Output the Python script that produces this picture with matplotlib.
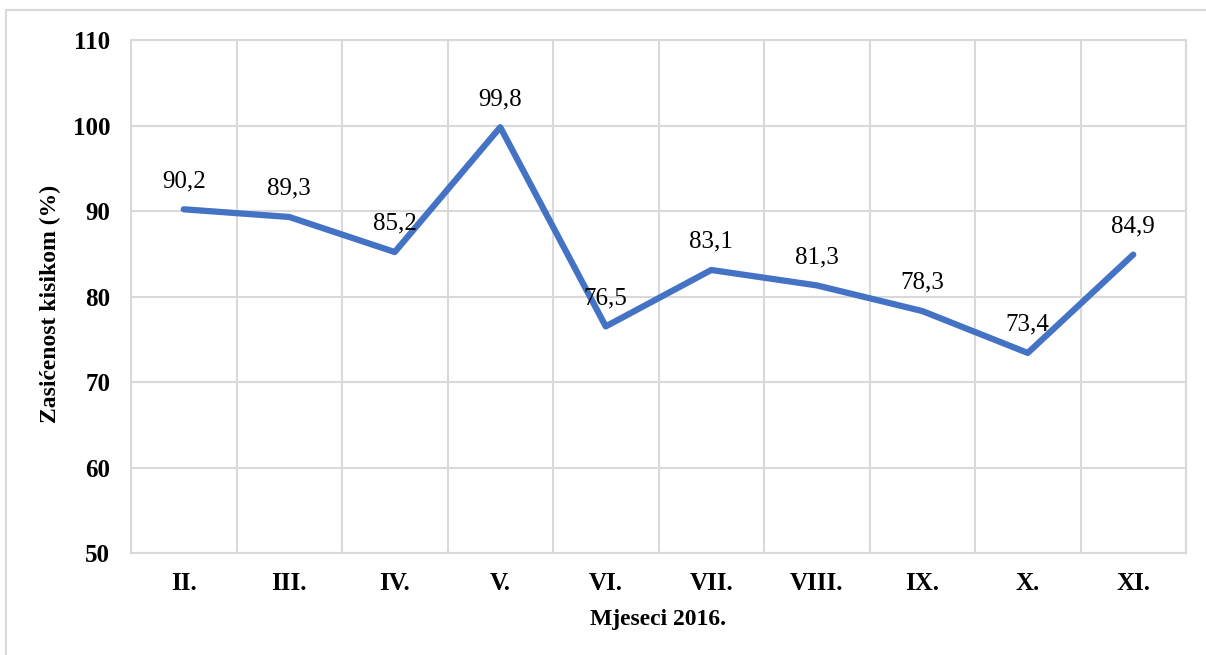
import numpy as np
import matplotlib.pyplot as plt
from matplotlib.patches import Rectangle

# ----------------------------
# Data
# ----------------------------
months = ["II.", "III.", "IV.", "V.", "VI.", "VII.", "VIII.", "IX.", "X.", "XI."]
saturation = [90.2, 89.3, 85.2, 99.8, 76.5, 83.1, 81.3, 78.3, 73.4, 84.9]
y_ticks = [50, 60, 70, 80, 90, 100, 110]

plt.rcParams['font.family'] = ['Liberation Serif', 'DejaVu Serif']

fig = plt.figure(figsize=(12.06, 6.55), dpi=100)
ax = fig.add_axes([131 / 1206, 1 - 553 / 655, (1186 - 131) / 1206, (553 - 40) / 655])

# outer frame of the chart area
fig.patches.append(Rectangle((6 / 1206, -0.1), 1.2, 1.1 - 10 / 655,
                             transform=fig.transFigure, fill=False,
                             edgecolor="#D9D9D9", linewidth=1.5))

x = np.arange(len(months))
ax.plot(x, saturation, color="#4472C4", linewidth=4.5, solid_capstyle="round",
        solid_joinstyle="round", zorder=3)

for xi, v in zip(x, saturation):
    ax.annotate(f"{v:.1f}".replace(".", ","), (xi, v), xytext=(0, 16),
                textcoords="offset points", ha="center", va="baseline",
                fontsize=18, color="#000000")

ax.set_xlim(-0.5, len(months) - 0.5)
ax.set_ylim(50, 110)
ax.set_yticks(y_ticks)
ax.set_xticks(x)
ax.set_xticklabels(months, fontsize=18, fontweight="bold")
ax.set_yticklabels([str(t) for t in y_ticks], fontsize=18, fontweight="bold")
ax.set_xticks(np.arange(-0.5, len(months), 1), minor=True)

ax.grid(True, axis="y", which="major", color="#D9D9D9", linewidth=1.5)
ax.grid(True, axis="x", which="minor", color="#D9D9D9", linewidth=1.5)
ax.tick_params(axis="both", which="both", length=0)
ax.tick_params(axis="x", pad=14)
ax.tick_params(axis="y", pad=15)
for s in ax.spines.values():
    s.set_color("#D9D9D9")
    s.set_linewidth(1.5)

ax.set_xlabel("Mjeseci 2016.", fontsize=17, fontweight="bold", labelpad=10)
ax.set_ylabel("Zasićenost kisikom (%)", fontsize=17, fontweight="bold", labelpad=5)
ax.yaxis.set_label_coords(-0.066, 0.485)

fig.savefig("out.png", dpi=100)
